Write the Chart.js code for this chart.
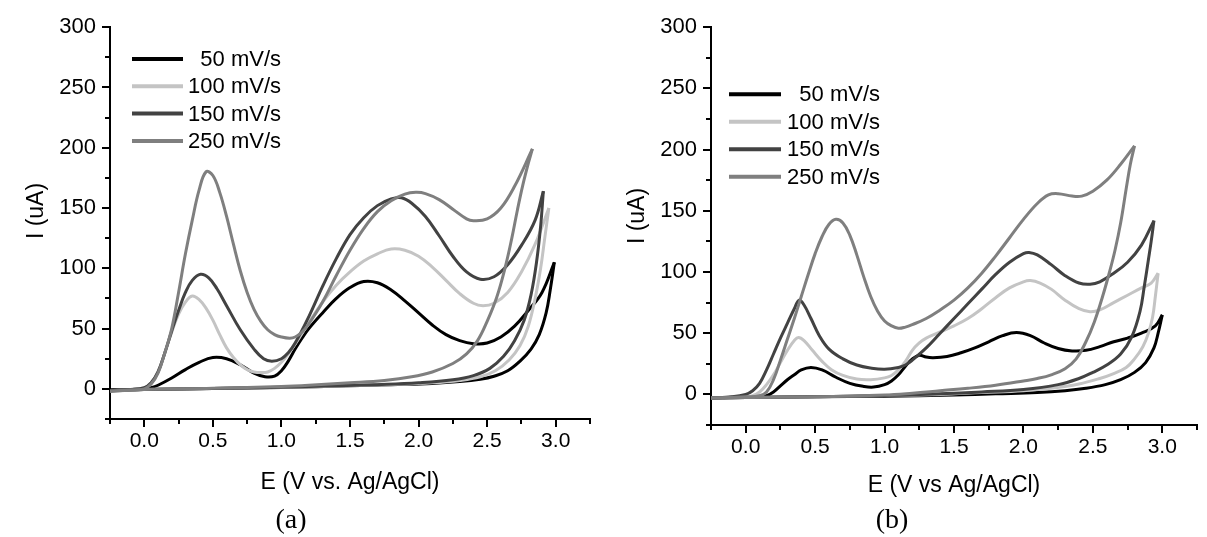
<!DOCTYPE html>
<html>
<head>
<meta charset="utf-8">
<script src="https://cdn.jsdelivr.net/npm/chart.js@4.4.1/dist/chart.umd.min.js"></script>
<style>
  html, body { margin: 0; padding: 0; background: #fff; }
  #wrap { position: relative; width: 1207px; height: 537px; overflow: hidden; }
  canvas { position: absolute; top: 0; }
  #chartA { left: 0; }
  #chartB { left: 600px; }
  .cap { position: absolute; top: 503px; font-family: "Liberation Serif", "Times New Roman", serif; font-size: 28px; color: #000; transform: translateX(-50%); }
</style>
</head>
<body>
<div id="wrap">
  <canvas id="chartA" width="600" height="537"></canvas>
  <canvas id="chartB" width="607" height="537"></canvas>
  <div class="cap" style="left:291px">(a)</div>
  <div class="cap" style="left:892px">(b)</div>
</div>
<script>
// scan rates and colours
const rateLabels = ['50 mV/s', '100 mV/s', '150 mV/s', '250 mV/s'];
const rateColors = ['#000000', '#c4c4c4', '#424242', '#7f7f7f'];

// panel (a): forward scans [E, I]
const aFwd50 = [[-0.25,-1],[-0.1,-0.5],[0,0],[0.05,1],[0.1,3],[0.2,9],[0.3,16],[0.4,22],[0.5,26],[0.6,25],[0.7,20],[0.8,13],[0.88,10],[0.95,10.5],[1.0,15],[1.05,23],[1.1,33],[1.15,42],[1.2,50],[1.3,63],[1.4,75],[1.5,84],[1.6,89],[1.7,88],[1.8,82],[1.9,73],[2.0,63],[2.1,53],[2.2,45],[2.3,40],[2.4,37.5],[2.5,38],[2.6,43],[2.7,52],[2.8,65],[2.9,80],[2.99,105]];
const aFwd100 = [[-0.25,-1.5],[-0.1,-0.5],[0,1],[0.05,5],[0.1,14],[0.15,30],[0.2,47],[0.25,62],[0.3,72],[0.35,77],[0.4,74],[0.45,67],[0.5,57],[0.55,45],[0.6,34],[0.65,26],[0.7,20],[0.75,16],[0.8,14],[0.85,13.5],[0.9,14],[0.95,17],[1.0,22],[1.05,29],[1.1,37],[1.2,55],[1.3,72],[1.4,86],[1.5,97],[1.6,106],[1.7,112],[1.8,116],[1.9,115],[2.0,110],[2.1,101],[2.2,90],[2.3,79],[2.4,71],[2.47,69],[2.55,71],[2.65,80],[2.75,97],[2.85,120],[2.95,150]];
const aFwd150 = [[-0.25,-1.5],[-0.1,-0.5],[0,1],[0.05,5],[0.1,14],[0.15,30],[0.2,48],[0.25,65],[0.3,80],[0.35,90],[0.41,95],[0.47,92],[0.53,83],[0.6,69],[0.7,49],[0.8,33],[0.87,25],[0.93,23],[1.0,25],[1.05,30],[1.1,38],[1.2,60],[1.3,85],[1.4,108],[1.5,128],[1.6,142],[1.7,152],[1.8,157.5],[1.875,158.5],[1.95,154],[2.05,143],[2.15,127],[2.25,110],[2.35,97],[2.45,91],[2.55,93],[2.65,103],[2.75,119],[2.85,140],[2.91,164]];
const aFwd250 = [[-0.25,-2],[-0.1,-1],[0,0],[0.05,4],[0.1,13],[0.15,30],[0.2,50],[0.25,80],[0.3,112],[0.35,140],[0.4,165],[0.45,180],[0.5,177],[0.55,163],[0.6,143],[0.65,120],[0.7,98],[0.75,80],[0.8,66],[0.85,56],[0.9,49],[0.95,45],[1.0,43],[1.06,42],[1.1,43],[1.15,47],[1.2,54],[1.3,72],[1.4,94],[1.5,115],[1.6,133],[1.7,147],[1.8,156],[1.9,161.5],[1.98,163],[2.05,162],[2.15,157],[2.25,149],[2.35,141],[2.4,139.5],[2.5,141],[2.6,150],[2.7,168],[2.83,199]];
// panel (a): reverse scans
const aRev50 = [[2.99,105],[2.96,82],[2.93,63],[2.88,45],[2.82,33],[2.74,23],[2.65,15],[2.55,10.5],[2.45,8],[2.3,6],[2.1,4.5],[1.8,3.5],[1.5,2.5],[1.0,1.2],[0.5,0.3],[0,-0.5],[-0.25,-1]];
const aRev100 = [[2.95,150],[2.92,125],[2.89,100],[2.85,75],[2.8,52],[2.74,36],[2.66,24],[2.56,15],[2.45,10],[2.3,7],[2.1,5],[1.8,3.5],[1.5,2.5],[1.0,1.2],[0.5,0.3],[0,-0.5],[-0.25,-1.5]];
const aRev150 = [[2.91,164],[2.89,135],[2.86,105],[2.82,78],[2.77,57],[2.7,40],[2.62,27],[2.52,17],[2.4,11],[2.25,7.5],[2.0,5],[1.7,3.5],[1.4,2.5],[1.0,1.3],[0.5,0.3],[0,-0.5],[-0.25,-1.5]];
const aRev250 = [[2.83,199],[2.8,187],[2.76,169],[2.72,148],[2.68,125],[2.63,100],[2.57,76],[2.5,56],[2.43,40],[2.35,29],[2.25,21],[2.1,14],[1.95,10],[1.75,7],[1.5,5],[1.2,3],[1.0,2],[0.5,0.5],[0,-0.5],[-0.25,-2]];

// panel (b): forward scans
const bFwd50 = [[-0.25,-3],[0,-2],[0.1,-1.5],[0.15,-1],[0.2,2],[0.25,7],[0.3,12],[0.35,16],[0.4,20],[0.47,22],[0.55,20],[0.65,14],[0.75,9],[0.85,6.5],[0.92,6],[1.0,8],[1.05,11],[1.1,16],[1.15,23],[1.2,29],[1.25,32],[1.3,30.5],[1.35,30],[1.45,31],[1.55,34],[1.65,38],[1.75,43],[1.85,48],[1.95,50.5],[2.05,48],[2.15,42],[2.25,37.5],[2.35,35.5],[2.45,36],[2.55,39],[2.65,43],[2.75,46],[2.85,50],[2.95,56],[3.0,65]];
const bFwd100 = [[-0.25,-3],[0,-2],[0.05,-1],[0.1,2],[0.15,8],[0.2,16],[0.25,26],[0.3,36],[0.35,44],[0.38,46.5],[0.42,44],[0.48,36],[0.55,27],[0.62,20],[0.7,15.5],[0.8,12.5],[0.9,12],[1.0,13.5],[1.05,15.5],[1.1,20],[1.15,27],[1.2,36],[1.25,42],[1.3,46],[1.4,51],[1.5,56],[1.6,62],[1.7,70],[1.8,79],[1.9,87],[2.0,92],[2.05,93],[2.12,91],[2.2,86],[2.3,77],[2.4,70],[2.48,67.5],[2.55,69],[2.65,75],[2.75,81],[2.85,87],[2.92,91],[2.97,99]];
const bFwd150 = [[-0.25,-3],[-0.1,-2],[0,0],[0.05,3],[0.1,9],[0.15,20],[0.2,33],[0.25,46],[0.3,58],[0.35,70],[0.385,77],[0.42,73],[0.47,62],[0.53,48],[0.6,37],[0.7,29],[0.8,24],[0.9,21.5],[1.0,20.5],[1.1,22],[1.15,24],[1.2,28],[1.3,38],[1.4,50],[1.5,62],[1.6,74],[1.7,86],[1.8,98],[1.9,108],[2.0,115],[2.04,116],[2.1,114],[2.2,106],[2.3,97],[2.4,91],[2.48,90],[2.55,92],[2.65,99],[2.75,108],[2.85,122],[2.94,142]];
const bFwd250 = [[-0.25,-3],[0,-2],[0.1,-1],[0.15,2],[0.2,12],[0.25,28],[0.3,45],[0.35,62],[0.4,80],[0.45,98],[0.5,115],[0.55,129],[0.6,139],[0.65,143],[0.7,140],[0.75,130],[0.8,114],[0.85,96],[0.9,80],[0.95,68],[1.0,60],[1.05,56],[1.1,54],[1.15,55],[1.2,57],[1.3,62],[1.4,69],[1.5,77],[1.6,87],[1.7,99],[1.8,113],[1.9,128],[2.0,143],[2.1,156],[2.18,163],[2.25,164],[2.35,162],[2.42,162],[2.5,166],[2.6,175],[2.7,188],[2.8,203]];
// panel (b): reverse scans
const bRev50 = [[3.0,65],[2.97,50],[2.94,38],[2.88,26],[2.8,18],[2.7,12],[2.59,8],[2.45,5],[2.3,3],[2.1,1.5],[1.8,0.5],[1.5,-0.5],[1.0,-1.5],[0.5,-2],[0,-2.5],[-0.25,-3]];
const bRev100 = [[2.97,99],[2.95,80],[2.93,63],[2.9,50],[2.86,39],[2.8,29],[2.74,22],[2.65,17],[2.55,13],[2.4,8.5],[2.2,5],[2.0,3],[1.7,1.5],[1.4,0],[1.0,-1],[0.5,-2],[0,-2.5],[-0.25,-3]];
const bRev150 = [[2.94,142],[2.92,125],[2.9,110],[2.87,88],[2.84,68],[2.78,47],[2.7,33],[2.6,24],[2.5,18],[2.4,13],[2.25,8],[2.0,4],[1.7,2],[1.4,0.5],[1.0,-1],[0.5,-2],[0,-2.5],[-0.25,-3]];
const bRev250 = [[2.8,203],[2.77,188],[2.74,168],[2.7,140],[2.66,118],[2.62,100],[2.57,80],[2.51,59],[2.45,43],[2.38,29],[2.3,21],[2.2,16],[2.1,13],[2.0,11],[1.8,7.5],[1.6,5],[1.4,3],[1.2,1],[1.0,-0.5],[0.5,-2],[0,-2.5],[-0.25,-3]];

const FONT = '"Liberation Sans", Arial, sans-serif';

// minor/major tick marks drawn outward on both axes
const tickMarks = {
  id: 'tickMarks',
  afterDraw(chart) {
    const ctx = chart.ctx;
    const xs = chart.scales.x, ys = chart.scales.y;
    ctx.save();
    ctx.strokeStyle = '#000';
    ctx.lineWidth = 2;
    ys.ticks.forEach(t => {
      const py = Math.round(ys.getPixelForValue(t.value));
      const len = Math.abs(t.value % 50) < 1e-6 ? 8 : 5;
      ctx.beginPath(); ctx.moveTo(ys.right - len, py); ctx.lineTo(ys.right, py); ctx.stroke();
    });
    xs.ticks.forEach(t => {
      const px = Math.round(xs.getPixelForValue(t.value));
      const r = t.value * 2;
      const len = Math.abs(r - Math.round(r)) < 1e-6 ? 8 : 5;
      ctx.beginPath(); ctx.moveTo(px, xs.top); ctx.lineTo(px, xs.top + len); ctx.stroke();
    });
    ctx.restore();
  }
};

// legend inside plot (text right-aligned) and the rotated y title
const cvLegend = {
  id: 'cvLegend',
  afterDraw(chart, args, opts) {
    const ctx = chart.ctx;
    ctx.save();
    ctx.font = '22px ' + FONT;
    ctx.textAlign = 'right';
    ctx.textBaseline = 'middle';
    rateLabels.forEach((lab, i) => {
      const y = opts.y + i * opts.dy;
      ctx.strokeStyle = rateColors[i];
      ctx.lineWidth = 4;
      ctx.beginPath(); ctx.moveTo(opts.x1, y); ctx.lineTo(opts.x2, y); ctx.stroke();
      ctx.fillStyle = '#000';
      ctx.fillText(lab, opts.tx, y + 1);
    });
    ctx.translate(opts.ytx, opts.yty);
    ctx.rotate(-Math.PI / 2);
    ctx.textAlign = 'center';
    ctx.font = '23px ' + FONT;
    ctx.fillText('I (uA)', 0, 0);
    ctx.restore();
  }
};

function toXY(arr) {
  return arr.map(p => ({ x: p[0], y: p[1] }));
}

function makeSets(fwd, rev) {
  const sets = [];
  // 250 mV/s on top, 50 mV/s at the bottom
  [3, 2, 1, 0].forEach(i => {
    [fwd[i], rev[i]].forEach(arr => {
      sets.push({
        label: rateLabels[i],
        data: toXY(arr),
        borderColor: rateColors[i],
        borderWidth: 3,
        pointRadius: 0,
        showLine: true,
        tension: 0.4,
        fill: false
      });
    });
  });
  return sets;
}

function makeChart(id, fwd, rev, cfg) {
  new Chart(document.getElementById(id), {
    type: 'scatter',
    data: { datasets: makeSets(fwd, rev) },
    options: {
      responsive: false,
      animation: false,
      events: [],
      layout: { padding: { top: cfg.top, right: cfg.right, left: 0, bottom: 0 } },
      plugins: {
        legend: { display: false },
        tooltip: { enabled: false },
        cvLegend: cfg.legend
      },
      scales: {
        x: {
          type: 'linear',
          min: -0.25, max: 3.25,
          afterFit: s => { s.height = cfg.xh; },
          grid: { display: false, drawTicks: false },
          border: { display: true, color: '#000', width: 2 },
          ticks: {
            stepSize: 0.25, autoSkip: false, maxRotation: 0, padding: 10,
            color: '#000', font: { family: FONT, size: 21 },
            callback: v => {
              const r = v * 2;
              return (Math.abs(r - Math.round(r)) < 1e-6 && v > -1e-6 && v < 3.0001) ? v.toFixed(1) : '';
            }
          },
          title: {
            display: true, text: cfg.xTitle, color: '#000',
            font: { family: FONT, size: 23 },
            padding: { top: 0, bottom: cfg.xtb }
          }
        },
        y: {
          type: 'linear',
          min: -25, max: 300,
          afterFit: s => { s.width = cfg.yw; },
          grid: { display: false, drawTicks: false },
          border: { display: true, color: '#000', width: 2 },
          ticks: {
            stepSize: 25, autoSkip: false, padding: 14,
            color: '#000', font: { family: FONT, size: 22 },
            callback: v => (v >= 0 && Math.abs(v % 50) < 1e-6) ? String(v) : ''
          }
        }
      }
    },
    plugins: [tickMarks, cvLegend]
  });
}

makeChart('chartA',
  [aFwd50, aFwd100, aFwd150, aFwd250],
  [aRev50, aRev100, aRev150, aRev250],
  { top: 24, right: 3, xh: 118, yw: 110, xtb: 41, xTitle: 'E (V vs. Ag/AgCl)',
    legend: { x1: 132, x2: 183, tx: 281, y: 59, dy: 27.3, ytx: 37, yty: 211 } });

makeChart('chartB',
  [bFwd50, bFwd100, bFwd150, bFwd250],
  [bRev50, bRev100, bRev150, bRev250],
  { top: 26, right: 4, xh: 112, yw: 111, xtb: 38, xTitle: 'E (V vs Ag/AgCl)',
    legend: { x1: 129, x2: 181, tx: 280, y: 94.3, dy: 27.5, ytx: 38, yty: 216 } });
</script>
</body>
</html>
